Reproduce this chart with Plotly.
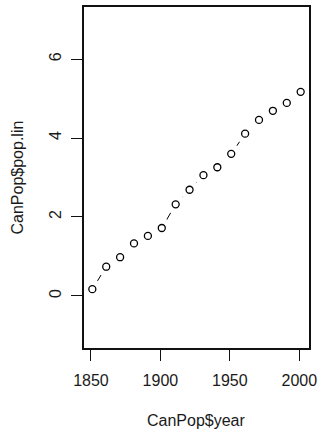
import plotly.graph_objects as go

year = [1851, 1861, 1871, 1881, 1891, 1901, 1911, 1921, 1931, 1941, 1951, 1961, 1971, 1981, 1991, 2001]
pop_lin = [0.17, 0.74, 0.98, 1.33, 1.52, 1.72, 2.32, 2.69, 3.06, 3.26, 3.60, 4.11, 4.46, 4.69, 4.89, 5.17]
x_ticks = [1850, 1900, 1950, 2000]
y_ticks = [0, 2, 4, 6]

FONT = "Liberation Sans, Arial, sans-serif"

fig = go.Figure()
# connecting line (type = "b")
fig.add_trace(go.Scatter(x=year, y=pop_lin, mode="lines",
                         line=dict(color="black", width=1), hoverinfo="skip"))
# white masks to create gaps around the points
fig.add_trace(go.Scatter(x=year, y=pop_lin, mode="markers",
                         marker=dict(symbol="circle", size=20, color="white",
                                     line=dict(width=0)), hoverinfo="skip"))
# open circles
fig.add_trace(go.Scatter(x=year, y=pop_lin, mode="markers",
                         marker=dict(symbol="circle-open", size=7, color="black",
                                     line=dict(width=1.3, color="black"))))

fig.update_layout(
    width=322, height=432,
    margin=dict(l=84, r=9, t=5, b=84),
    paper_bgcolor="white", plot_bgcolor="white",
    showlegend=False,
    font=dict(family=FONT, size=16, color="#1a1a1a"),
)
fig.update_xaxes(range=[1845, 2007], tickvals=x_ticks, ticks="outside", ticklen=11,
                 tickwidth=1.3, tickcolor="#111", showgrid=False, zeroline=False,
                 showline=True, linecolor="#111", linewidth=1.5, mirror=True,
                 tickfont=dict(size=16), ticklabelstandoff=6)
fig.update_yaxes(range=[-1.32, 7.32], tickvals=y_ticks, ticks="outside", ticklen=11,
                 tickwidth=1.3, tickcolor="#111", showgrid=False, zeroline=False,
                 showline=True, linecolor="#111", linewidth=1.5, mirror=True,
                 tickangle=-90, tickfont=dict(size=16), ticklabelstandoff=4)

fig.add_annotation(text="CanPop$year", xref="paper", yref="paper", x=0.5, y=0,
                   yshift=-72, showarrow=False, font=dict(size=16), yanchor="middle")
fig.add_annotation(text="CanPop$pop.lin", xref="paper", yref="paper", x=0, y=0.5,
                   xshift=-67, showarrow=False, font=dict(size=16), textangle=-90,
                   xanchor="center")

fig.write_html("out.html", config={"displayModeBar": False},
               post_script="document.body.style.margin='0';document.body.style.overflow='hidden';")
